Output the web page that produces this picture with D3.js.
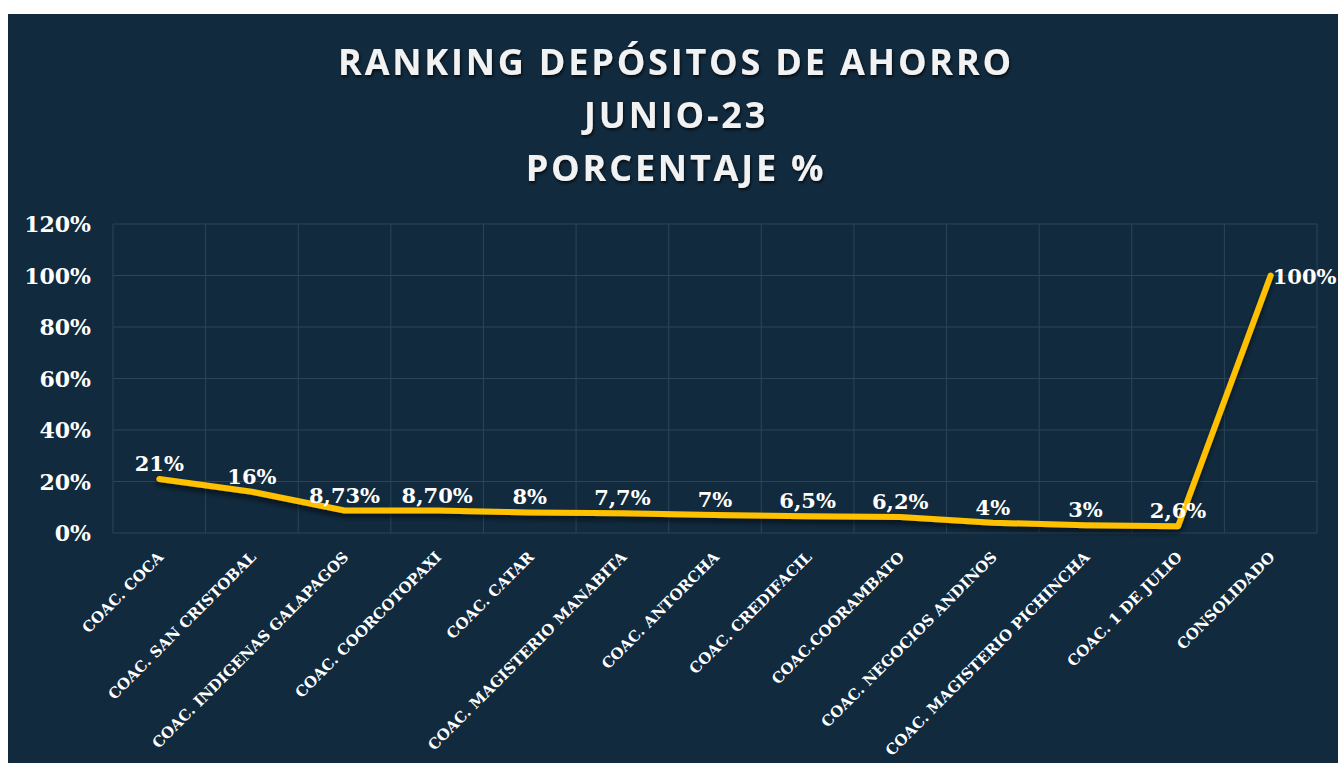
<!DOCTYPE html>
<html>
<head>
<meta charset="utf-8">
<script src="https://cdn.jsdelivr.net/npm/d3@7"></script>
<style>
  html, body { margin: 0; padding: 0; background: #ffffff; }
  svg { display: block; }
</style>
</head>
<body>
<div id="chart"></div>
<script>
// data
const categories = [
  "COAC. COCA", "COAC. SAN CRISTOBAL", "COAC. INDIGENAS GALAPAGOS", "COAC. COORCOTOPAXI",
  "COAC. CATAR", "COAC. MAGISTERIO MANABITA", "COAC. ANTORCHA", "COAC. CREDIFACIL",
  "COAC.COORAMBATO", "COAC. NEGOCIOS ANDINOS", "COAC. MAGISTERIO PICHINCHA",
  "COAC. 1 DE JULIO", "CONSOLIDADO"
]
const values = [21, 16, 8.73, 8.70, 8, 7.7, 7, 6.5, 6.2, 4, 3, 2.6, 100]
const valueLabels = ["21%", "16%", "8,73%", "8,70%", "8%", "7,7%", "7%", "6,5%", "6,2%", "4%", "3%", "2,6%", "100%"]
const yTicks = [0, 20, 40, 60, 80, 100, 120]
const titleLines = ["RANKING DEPÓSITOS DE AHORRO", "JUNIO-23", "PORCENTAJE %"]

const W = 1338, H = 763
const margin = {top: 224, right: 21, bottom: 230, left: 113}
const width = W - margin.left - margin.right
const height = H - margin.top - margin.bottom

const svg = d3.select("#chart").append("svg")
  .attr("width", W)
  .attr("height", H)

const defs = svg.append("defs")
const lineShadow = defs.append("filter").attr("id", "lineShadow")
  .attr("x", "-10%").attr("y", "-10%").attr("width", "120%").attr("height", "130%")
lineShadow.append("feDropShadow")
  .attr("dx", 0).attr("dy", 4).attr("stdDeviation", 2.5)
  .attr("flood-color", "#000").attr("flood-opacity", 0.55)
const textShadow = defs.append("filter").attr("id", "textShadow")
textShadow.append("feDropShadow")
  .attr("dx", 1).attr("dy", 2).attr("stdDeviation", 1.5)
  .attr("flood-color", "#000").attr("flood-opacity", 0.7)

// dark panel (white strip at top and left)
svg.append("rect").attr("width", W).attr("height", H).attr("fill", "#ffffff")
svg.append("rect").attr("x", 8).attr("y", 14).attr("width", W - 8).attr("height", H - 14)
  .attr("fill", "#112a3e")

// title
svg.append("g")
  .attr("filter", "url(#textShadow)")
  .selectAll("text")
  .data(titleLines)
  .enter()
  .append("text")
  .attr("x", 676)
  .attr("y", (d, i) => 75 + i * 53)
  .attr("text-anchor", "middle")
  .style("font-family", "'Open Sans', sans-serif")
  .style("font-weight", "bold")
  .style("font-size", "36px")
  .style("letter-spacing", "2.8px")
  .style("fill", "#f2f2f2")
  .text(d => d)

const plt = svg.append("g")
  .attr("transform", "translate(" + margin.left + "," + margin.top + ")")

const x = d3.scaleBand()
  .domain(categories)
  .range([0, width])

const y = d3.scaleLinear()
  .domain([0, 120])
  .range([height, 0])

const gridColor = "#2b4559"

// horizontal grid
plt.selectAll(".hgrid")
  .data(yTicks)
  .enter()
  .append("line")
  .attr("x1", 0).attr("x2", width)
  .attr("y1", d => y(d)).attr("y2", d => y(d))
  .style("stroke", gridColor)
  .style("stroke-width", 1)

// vertical grid on category boundaries
plt.selectAll(".vgrid")
  .data(d3.range(categories.length + 1))
  .enter()
  .append("line")
  .attr("x1", i => i * x.step()).attr("x2", i => i * x.step())
  .attr("y1", 0).attr("y2", height)
  .style("stroke", gridColor)
  .style("stroke-width", 1)

// y axis labels
const yAxis = plt.append("g")
  .call(d3.axisLeft(y).tickValues(yTicks).tickFormat(d => d + "%").tickSize(0).tickPadding(22))
yAxis.select(".domain").remove()
yAxis.selectAll("text")
  .attr("dy", "0.36em")
  .style("font-family", "'DejaVu Serif', serif")
  .style("font-weight", "bold")
  .style("font-size", "22px")
  .style("fill", "#ffffff")

// x axis labels, rotated
const xAxis = plt.append("g")
  .attr("transform", "translate(0," + height + ")")
  .call(d3.axisBottom(x).tickSize(0).tickPadding(0))
xAxis.select(".domain").remove()
xAxis.selectAll("text")
  .attr("x", 0).attr("y", 0).attr("dy", 0)
  .attr("transform", "translate(5,25) rotate(-45)")
  .style("text-anchor", "end")
  .style("font-family", "'DejaVu Serif', serif")
  .style("font-weight", "bold")
  .style("font-size", "15px")
  .style("fill", "#ffffff")

// line
const cx = d => x(d) + x.bandwidth() / 2
const line = d3.line()
  .x((d, i) => cx(categories[i]))
  .y(d => y(d))

plt.append("path")
  .datum(values)
  .attr("d", line)
  .attr("filter", "url(#lineShadow)")
  .style("fill", "none")
  .style("stroke", "#ffc000")
  .style("stroke-width", 6)
  .style("stroke-linejoin", "round")
  .style("stroke-linecap", "round")

// data labels
const last = values.length - 1
plt.selectAll(".lbl")
  .data(values)
  .enter()
  .append("text")
  .attr("x", (d, i) => i === last ? cx(categories[i]) + 2 : cx(categories[i]))
  .attr("y", (d, i) => i === last ? y(d) + 8 : y(d) - 8)
  .attr("text-anchor", (d, i) => i === last ? "start" : "middle")
  .style("font-family", "'DejaVu Serif', serif")
  .style("font-weight", "bold")
  .style("font-size", "21px")
  .style("fill", "#ffffff")
  .text((d, i) => valueLabels[i])
</script>
</body>
</html>
